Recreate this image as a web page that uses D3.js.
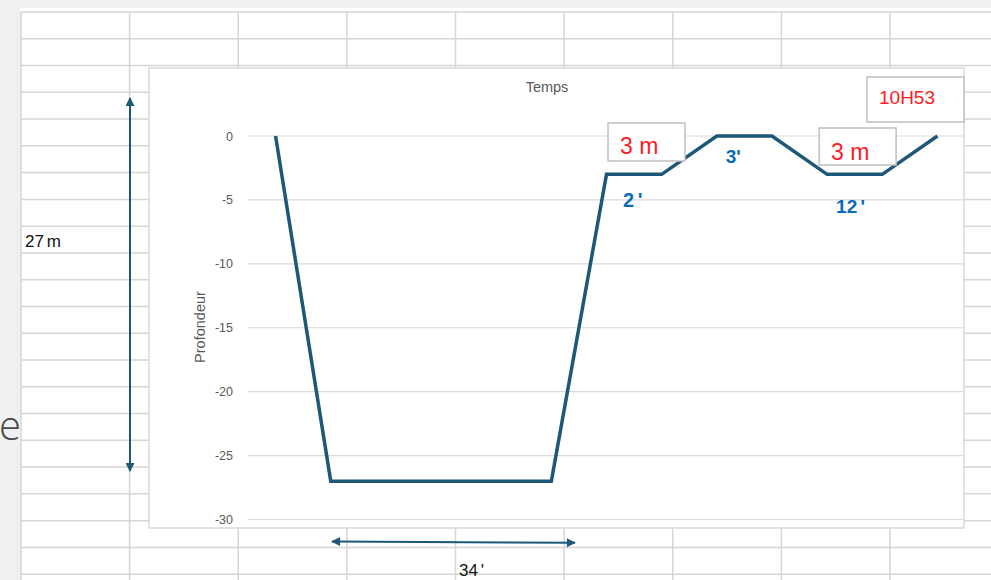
<!DOCTYPE html>
<html><head><meta charset="utf-8">
<script src="https://cdn.jsdelivr.net/npm/d3@7"></script>
<style>
body{margin:0;background:#fff;}
svg{display:block;font-family:"Liberation Sans",Arial,Helvetica,sans-serif;}
</style>
</head><body>
<svg id="c" width="991" height="580"></svg>
<script>
// ---- data ----
const categories = ["0","1","2","3","4","5","6","7","8","9","10","11","12"];
const depth = [0,-27,-27,-27,-27,-27,-3,-3,0,0,-3,-3,0];
const yTicks = [0,-5,-10,-15,-20,-25,-30];
const xTitle = "Temps";
const yTitle = "Profondeur";
const stopLabels = ["3 m","3 m"];
const durationLabels = ["2 '","3'","12 '"];
const timeLabel = "10H53";
const depthNote = "27 m";
const bottomNote = "34 '";

// ---- drawing ----
const svg = d3.select("#c");
const W = 991, H = 580;
const lineColor = "#1d5877";

svg.append("defs").html(`
  <marker id="ah" viewBox="0 0 10 10" refX="9" refY="5" markerWidth="10" markerHeight="9" markerUnits="userSpaceOnUse" orient="auto-start-reverse">
    <path d="M0,0 L10,5 L0,10 z" fill="${lineColor}"/>
  </marker>`);

// spreadsheet background
svg.append("rect").attr("x",0).attr("y",0).attr("width",W).attr("height",H).attr("fill","#fff");
const sheet = svg.append("g");
const rowY = d3.range(0,22).map(k => 12 + 26.77*k);
const colX = d3.range(0,9).map(k => 21 + 108.63*k);
sheet.selectAll("line.h").data(rowY).join("line")
  .attr("x1",21).attr("x2",W).attr("y1",d=>d).attr("y2",d=>d)
  .attr("stroke","#d5d5d5").attr("stroke-width",1.5);
sheet.selectAll("line.v").data(colX).join("line")
  .attr("y1",12).attr("y2",H).attr("x1",d=>d).attr("x2",d=>d)
  .attr("stroke","#d5d5d5").attr("stroke-width",1.5);
svg.append("rect").attr("x",0).attr("y",0).attr("width",W).attr("height",8).attr("fill","#f0f0f0");
svg.append("rect").attr("x",0).attr("y",0).attr("width",20).attr("height",H).attr("fill","#f0f0f0");
svg.append("text").attr("x",21).attr("y",440).attr("text-anchor","end")
  .attr("font-size",40).attr("font-weight",300).attr("fill","#4a4a4a")
  .style("font-family","'Open Sans','Liberation Sans',sans-serif").text("e");

// chart area
svg.append("rect").attr("x",149).attr("y",68).attr("width",815).attr("height",460)
  .attr("fill","#fff").attr("stroke","#d9d9d9").attr("stroke-width",1.5);

const x = d3.scalePoint().domain(categories).range([248,965]).padding(0.5);
const y = d3.scaleLinear().domain([0,-30]).range([136,519.5]);

// gridlines
svg.append("g").selectAll("line").data(yTicks).join("line")
  .attr("x1",248).attr("x2",963).attr("y1",d=>y(d)).attr("y2",d=>y(d))
  .attr("stroke","#d9d9d9").attr("stroke-width",1.2);

// y axis labels
const yAxis = d3.axisLeft(y).tickValues(yTicks).tickSize(0).tickPadding(0)
  .tickFormat(d => d3.format("d")(d).replace("−","-"));
const ya = svg.append("g").attr("transform","translate(233,0)").call(yAxis);
ya.select(".domain").remove();
ya.selectAll("text").attr("font-size",12.5).attr("fill","#595959")
  .style("font-family","'Liberation Sans',Arial,sans-serif");

// titles
svg.append("text").attr("x",547).attr("y",92).attr("text-anchor","middle")
  .attr("font-size",14.5).attr("fill","#595959").text(xTitle);
svg.append("text").attr("transform","translate(205,327) rotate(-90)").attr("text-anchor","middle")
  .attr("font-size",14.5).attr("fill","#595959").text(yTitle);

// profile line
const line = d3.line().x((d,i)=>x(categories[i])).y(d=>y(d));
svg.append("path").datum(depth).attr("d",line)
  .attr("fill","none").attr("stroke",lineColor).attr("stroke-width",3.5)
  .attr("stroke-linejoin","miter");

// text boxes
function box(x0,y0,w,h,txt,tx,ty,fs){
  svg.append("rect").attr("x",x0).attr("y",y0).attr("width",w).attr("height",h)
    .attr("fill","#fff").attr("stroke","#c0c0c0").attr("stroke-width",1.5);
  svg.append("text").attr("x",tx).attr("y",ty).attr("font-size",fs).attr("fill","#ff1a24").text(txt);
}
box(x(categories[6])+1.5, y(0)-13, 77, 38, stopLabels[0], x(categories[6])+13.5, y(0)+18, 23);
box(x(categories[10])-8, y(0)-8, 77, 37, stopLabels[1], x(categories[10])+4, y(0)+24, 23);
box(867, 77, 97, 45, timeLabel, 879, 104, 19);

// duration labels
function dur(txt,tx,ty,fs){
  svg.append("text").attr("x",tx).attr("y",ty).attr("font-size",fs).attr("font-weight","bold")
    .attr("word-spacing",-2).attr("fill","#0a6cb8").text(txt);
}
dur(durationLabels[0], x(categories[6])+16.5, y(-3)+33, 20);
dur(durationLabels[1], x(categories[8])+9, y(0)+27, 19);
dur(durationLabels[2], x(categories[10])+9, y(-3)+38.5, 19);

// annotations outside
svg.append("line").attr("x1",130).attr("x2",130).attr("y1",98).attr("y2",471)
  .attr("stroke",lineColor).attr("stroke-width",2)
  .attr("marker-start","url(#ah)").attr("marker-end","url(#ah)");
svg.append("line").attr("x1",332).attr("y1",541.5).attr("x2",575).attr("y2",542.8)
  .attr("stroke",lineColor).attr("stroke-width",2)
  .attr("marker-start","url(#ah)").attr("marker-end","url(#ah)");

svg.append("text").attr("x",25).attr("y",247).attr("font-size",17).attr("fill","#111")
  .attr("word-spacing",-2).text(depthNote);
svg.append("text").attr("x",459).attr("y",576).attr("font-size",17).attr("fill","#111")
  .attr("word-spacing",-2).text(bottomNote);
</script>
</body></html>
